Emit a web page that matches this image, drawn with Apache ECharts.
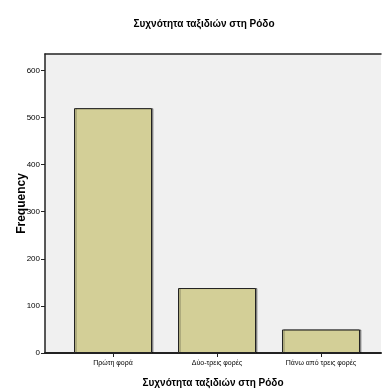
<!DOCTYPE html>
<html>
<head>
<meta charset="utf-8">
<script src="https://cdn.jsdelivr.net/npm/echarts@6/dist/echarts.min.js"></script>
<style>html,body{margin:0;padding:0;background:#fff;}#c{width:382px;height:390px;}</style>
</head>
<body>
<div id="c"></div>
<script>
const chartTitle = 'Συχνότητα ταξιδιών στη Ρόδο';
const categories = ['Πρώτη φορά', 'Δύο-τρεις φορές', 'Πάνω από τρεις φορές'];
const frequencies = [520, 138, 50];
const yTicks = [0, 100, 200, 300, 400, 500, 600];
const yAxisTitle = 'Frequency';
const xAxisTitle = 'Συχνότητα ταξιδιών στη Ρόδο';

const positions = categories.map((c, i) => i);
const narrow = "'Liberation Sans Narrow', 'Liberation Sans', Arial, sans-serif";
const sans = "'Liberation Sans', Arial, sans-serif";

const chart = echarts.init(document.getElementById('c'), null, {renderer: 'canvas'});
chart.setOption({
  animation: false,
  backgroundColor: '#ffffff',
  title: {
    text: chartTitle,
    left: 199,
    top: 14,
    textAlign: 'center',
    textStyle: {fontFamily: sans, fontSize: 10, fontWeight: 'bold', color: '#000'}
  },
  grid: {
    left: 45, right: 1, top: 54, bottom: 37,
    containLabel: false,
    outerBoundsMode: 'none',
    show: true, backgroundColor: '#f0f0f0', borderWidth: 0
  },
  xAxis: [{
    type: 'value',
    min: -0.654, max: 2.577,
    position: 'bottom',
    name: xAxisTitle,
    nameLocation: 'middle',
    nameGap: 25,
    nameMoveOverlap: false,
    nameTextStyle: {fontFamily: sans, fontSize: 10, fontWeight: 'bold', color: '#000'},
    axisLine: {show: true, onZero: false, lineStyle: {color: '#222', width: 2}},
    axisTick: {show: true, length: 4, customValues: positions, lineStyle: {color: '#222'}},
    axisLabel: {
      customValues: positions,
      formatter: v => categories[Math.round(v)],
      fontFamily: narrow, fontSize: 7, color: '#000', margin: 7
    },
    splitLine: {show: false}
  }, {
    type: 'value',
    min: -0.654, max: 2.577,
    position: 'top',
    axisLine: {show: true, onZero: false, lineStyle: {color: '#222', width: 1.5}},
    axisTick: {show: false},
    axisLabel: {show: false},
    splitLine: {show: false}
  }],
  yAxis: {
    type: 'value',
    min: 0, max: 635, interval: 100,
    name: yAxisTitle,
    nameLocation: 'middle',
    nameGap: 17,
    nameMoveOverlap: false,
    nameTextStyle: {fontFamily: sans, fontSize: 12, fontWeight: 'bold', color: '#000'},
    axisLine: {show: true, onZero: false, lineStyle: {color: '#222', width: 1.5}},
    axisTick: {show: true, length: 4, customValues: yTicks, lineStyle: {color: '#222'}},
    axisLabel: {customValues: yTicks, fontFamily: narrow, fontSize: 8, color: '#000', margin: 5},
    splitLine: {show: false}
  },
  series: [{
    type: 'bar',
    xAxisIndex: 0,
    barWidth: 78,
    data: frequencies.map((v, i) => [positions[i], v]),
    itemStyle: {
      color: '#d3cf97',
      borderColor: '#222',
      borderWidth: 1,
      shadowColor: 'rgba(0,0,0,0.35)',
      shadowOffsetX: 1.5,
      shadowOffsetY: 0,
      shadowBlur: 0
    }
  }]
});
</script>
</body>
</html>
